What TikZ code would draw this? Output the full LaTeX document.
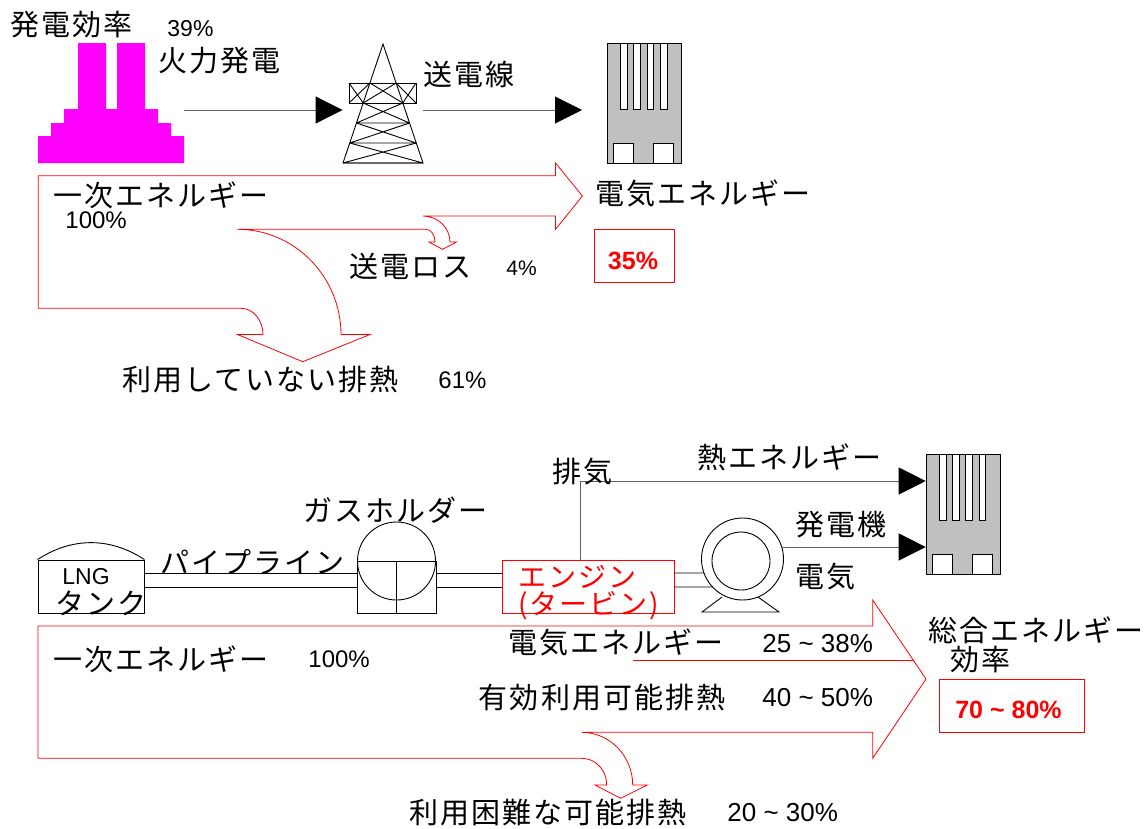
\documentclass[tikz,border=0pt]{standalone}
\usepackage{fontspec}
\setmainfont{Liberation Sans}
\newfontfamily\jp[LetterSpace=7]{Noto Sans CJK JP}
\usetikzlibrary{arrows.meta}
\definecolor{plantpink}{HTML}{FF00FF}
\definecolor{flowred}{HTML}{FF0000}
\definecolor{bldgray}{HTML}{C0C0C0}
\definecolor{wiregray}{HTML}{606060}
\tikzset{
  jp/.style={inner sep=0pt, anchor=west, font=\jp\fontsize{29pt}{24pt}\selectfont},
  pct/.style={inner sep=0pt, anchor=west, font=\fontsize{24pt}{26pt}\selectfont},
  pctrange/.style={pct, font=\fontsize{26pt}{28pt}\selectfont},
  redfig/.style={inner sep=0pt, text=flowred, font=\bfseries\fontsize{25pt}{28pt}\selectfont},
  redbox/.style={draw=flowred, line width=0.8pt, inner sep=0pt},
  feed/.style={wiregray, line width=1pt, -{Triangle[color=black, length=27pt, width=27pt]}},
  flow/.style={flowred, line width=0.8pt},
  office/.pic={
    \node[draw, fill=bldgray, minimum width=74pt, minimum height=120pt, inner sep=0pt,
          anchor=north west] (-box) at (0,0) {};
    \foreach \i in {0,...,3}
      \draw[fill=white] (13.6+13.3*\i,0) rectangle ++(6.7,66);
    \draw[fill=white] (6.6,100) rectangle ++(20,20);
    \draw[fill=white] (46.3,100) rectangle ++(20,20);
  }
}

\begin{document}
\begin{tikzpicture}[x=1pt, y=-1pt, line width=0.9pt]
  \useasboundingbox (0,0) rectangle (1145,828);

  % thermal plant, pylon, consumer
  \node[minimum width=146pt, minimum height=120pt, inner sep=0pt] (plant) at (111,103) {};
  \fill[plantpink] (78,43) rectangle (106,110) (117,43) rectangle (145,110)
    (64,109) rectangle (158,123) (51,123) rectangle (171,136) (38,136) rectangle (184,163);

  \node[minimum width=80pt, minimum height=119pt, inner sep=0pt] (tower) at (383,103.5) {};
  \draw (343,163) -- (383,44) -- (423,163) -- cycle;
  \draw (349,83) rectangle (416,103);
  \draw (349,83) -- (363.2,103) (349,103) -- (369.9,83) (369.9,83) -- (402.8,103)
        (396.1,83) -- (363.2,103) (396.1,83) -- (416,103) (402.8,103) -- (416,83);
  \foreach \a/\b in {103/123,123/143,143/163}
    \draw ({383-40*(\a-44)/119},\a) -- ({383+40*(\b-44)/119},\b)
          ({383+40*(\a-44)/119},\a) -- ({383-40*(\b-44)/119},\b)
          ({383-40*(\b-44)/119},\b) -- ({383+40*(\b-44)/119},\b);

  \pic (elec) at (607,43) {office};

  \coordinate (busbar) at (0,110);
  \draw[feed] (plant.east |- busbar) -- (tower.west |- busbar);
  \draw[feed, shorten >=25pt] (tower.east |- busbar) -- (elec-box.west |- busbar);

  % energy flow, power plant
  \draw[flow] (38.3,175.7) -- (555.5,175.7) -- (555.5,163) -- (582.4,196) -- (555.5,229.3)
    -- (555.5,216) -- (423,216) .. controls (438,216) and (450,228) .. (450,242)
    -- (456.5,242) -- (442.5,249.3) -- (429,242) -- (435,242)
    .. controls (435,235) and (431,229.3) .. (426.4,229.3) -- (237.5,229.3)
    .. controls (294.5,229.3) and (341,276.7) .. (341,334.5)
    -- (370,334.5) -- (302.7,361.7) -- (237.5,334.5) -- (263,334.5)
    .. controls (263,320) and (253,308.3) .. (241,308.3) -- (38.3,308.3) -- cycle;

  \node[jp] (effcap) at (10,25) {発電効率};
  \node[pct, font=\fontsize{23pt}{26pt}\selectfont] (effval) at (167,29) {39\%};
  \node[jp] (plantcap) at (158,61) {火力発電};
  \node[jp] (linecap) at (423,74) {送電線};
  \node[jp] (primcap) at (53,195) {一次エネルギー};
  \node[pct] (primval) at (65,220) {100\%};
  \node[jp] (losscap) at (349,266) {送電ロス};
  \node[pct, font=\fontsize{21pt}{24pt}\selectfont] (lossval) at (506,268) {4\%};
  \node[jp] (eleccap) at (595,193.5) {電気エネルギー};
  \node[redbox, minimum width=80pt, minimum height=53pt] (effbox) at (634,255.5) {};
  \node[redfig] (effnum) at (633,261) {35\%};
  \node[jp] (wastecap) at (122,380) {利用していない排熱};
  \node[pct] (wasteval) at (438,380) {61\%};

  % cogeneration line
  \coordinate (pipeA) at (0,573);
  \coordinate (pipeB) at (0,587);
  \node[draw, minimum width=106pt, minimum height=53pt, inner sep=0pt] (tank) at (91,586.5) {};
  \draw (tank.north west) .. controls (72,537) and (110,537) .. (tank.north east);
  \node[draw, minimum width=79pt, minimum height=52pt, inner sep=0pt] (holder) at (396.5,587) {};
  \node[draw, circle, minimum size=78pt, inner sep=0pt] (dome) at (396.5,561) {};
  \draw (holder.north) -- (holder.south);
  \node[draw=flowred, line width=0.8pt, minimum width=172pt, minimum height=53pt, inner sep=0pt]
    (engine) at (587.9,586.5) {};
  \draw (722,597) -- (702,612) -- (779,612) -- (758,597);
  \node[draw, circle, fill=white, minimum size=82pt, inner sep=0pt, outer sep=0pt] (gen) at (742.5,559) {};
  \node[draw, circle, minimum size=58pt, inner sep=0pt] (rotor) at (741,561) {};
  \pic (heat) at (925.7,454) {office};

  \draw (tank.east |- pipeA) -- (holder.west |- pipeA) (tank.east |- pipeB) -- (holder.west |- pipeB);
  \draw (holder.east |- pipeA) -- (engine.west |- pipeA) (holder.east |- pipeB) -- (engine.west |- pipeB);
  \draw (engine.east |- pipeA) -- (gen.200) (engine.east |- pipeB) -- (gen.223);
  \draw[feed] ([xshift=-7pt]engine.north) |- (heat-box.west |- 0,481);
  \draw[feed] (gen.17.5) -- (heat-box.west |- gen.17.5);

  \node[jp] (holdcap) at (303,510) {ガスホルダー};
  \node[pct, font=\fontsize{23pt}{26pt}\selectfont] (lngcap) at (62,577) {LNG};
  \node[jp] (tankcap) at (55,603) {タンク};
  \node[jp] (pipecap) at (160,562) {パイプライン};
  \node[jp, text=flowred, align=left, font=\jp\fontsize{28pt}{27pt}\selectfont]
    (engcap) at (518,593) {エンジン\\(タービン)};
  \node[jp] (exhcap) at (552,472) {排気};
  \node[jp] (heatcap) at (697,457) {熱エネルギー};
  \node[jp] (gencap) at (795,525) {発電機};
  \node[jp] (powcap) at (795,577) {電気};

  % energy flow, cogeneration
  \draw[flow] (38,626) -- (872.7,626) -- (872.7,600) -- (926,679) -- (872.7,758.3)
    -- (872.7,732.3) -- (581.7,732.3) .. controls (609.7,732.3) and (632.7,756) .. (632.7,785)
    -- (647.3,785) -- (620.7,798.3) -- (595,785) -- (606.7,785)
    .. controls (606.7,770) and (595.5,758.3) .. (581.7,758.3) -- (38,758.3) -- cycle;
  \draw[flow] (633,660) -- (913,660);

  \node[jp] (prim2cap) at (53,659) {一次エネルギー};
  \node[pct] (prim2val) at (308,659) {100\%};
  \node[jp] (elec2cap) at (508,642) {電気エネルギー};
  \node[pctrange] (elec2val) at (762,644) {25 \textasciitilde{} 38\%};
  \node[jp] (usecap) at (478.5,697.5) {有効利用可能排熱};
  \node[pctrange] (useval) at (762,697.5) {40 \textasciitilde{} 50\%};
  \node[jp] (totcap) at (928,630) {総合エネルギー};
  \node[jp] (totcap2) at (950,660) {効率};
  \node[redbox, minimum width=145pt, minimum height=53pt] (totbox) at (1012.3,705.8) {};
  \node[redfig] (totnum) at (1008.5,710) {70 \textasciitilde{} 80\%};
  \node[jp] (lostcap) at (409,813) {利用困難な可能排熱};
  \node[pctrange] (lostval) at (727,813) {20 \textasciitilde{} 30\%};
\end{tikzpicture}
\end{document}
